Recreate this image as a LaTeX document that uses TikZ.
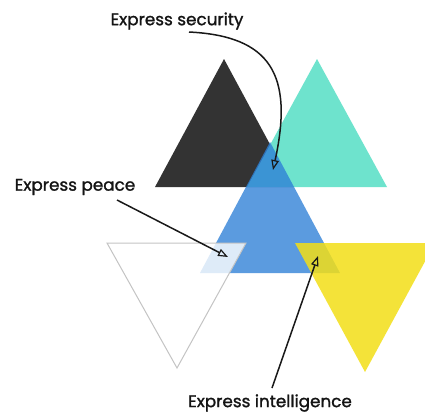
\documentclass[tikz,border=0pt]{standalone}
\usepackage{fontspec}
\newfontfamily\labfont{Poppins}[FakeBold=1.3]
\usetikzlibrary{arrows.meta}
\definecolor{tblack}{HTML}{333333}
\definecolor{tteal}{HTML}{6EE3CD}
\definecolor{tblue}{RGB}{45,127,215}
\definecolor{tyellow}{RGB}{243,223,23}
\definecolor{tgray}{HTML}{C4C4C4}
\begin{document}
\begin{tikzpicture}[x=1pt,y=-1pt,
  lbl/.style={font=\labfont\fontsize{16.8}{20}\selectfont, inner sep=0pt, text=black!92},
  callout/.style={draw=black!90, line width=1.5pt, -{Triangle[open,length=10pt,width=7.5pt,line width=1.2pt]}},
]
\useasboundingbox[fill=white] (0,0) rectangle (425,416);
% triangles
\fill[tblack] (224,59) -- (293,187) -- (155,187) -- cycle;
\fill[tteal] (317,59) -- (387,187) -- (247,187) -- cycle;
\fill[tblue, fill opacity=0.78] (270,142) -- (340,273) -- (200,273) -- cycle;
\filldraw[fill=white, fill opacity=0.8, draw=tgray, line width=1pt] (107,243) -- (246,243) -- (177,368) -- cycle;
\fill[tyellow, fill opacity=0.85] (295,243) -- (435,243) -- (365,372) -- cycle;
% labels
\node[lbl] (sec) at (177,21) {Express security};
\node[lbl] (pea) at (75,187) {Express peace};
\node[lbl] (int) at (270,403) {Express intelligence};
% connector ends
\coordinate (secS) at (189,32);
\coordinate (secT) at (273,170);
\coordinate (peaS) at (117,200);
\coordinate (peaT) at (228,257);
\coordinate (intS) at (272,388);
\coordinate (intT) at (318,256);
\draw[callout] (secS) .. controls (270,36) and (294,74) .. (secT);
\draw[callout] (peaS) -- (peaT);
\draw[callout] (intS) -- (intT);
\end{tikzpicture}
\end{document}
